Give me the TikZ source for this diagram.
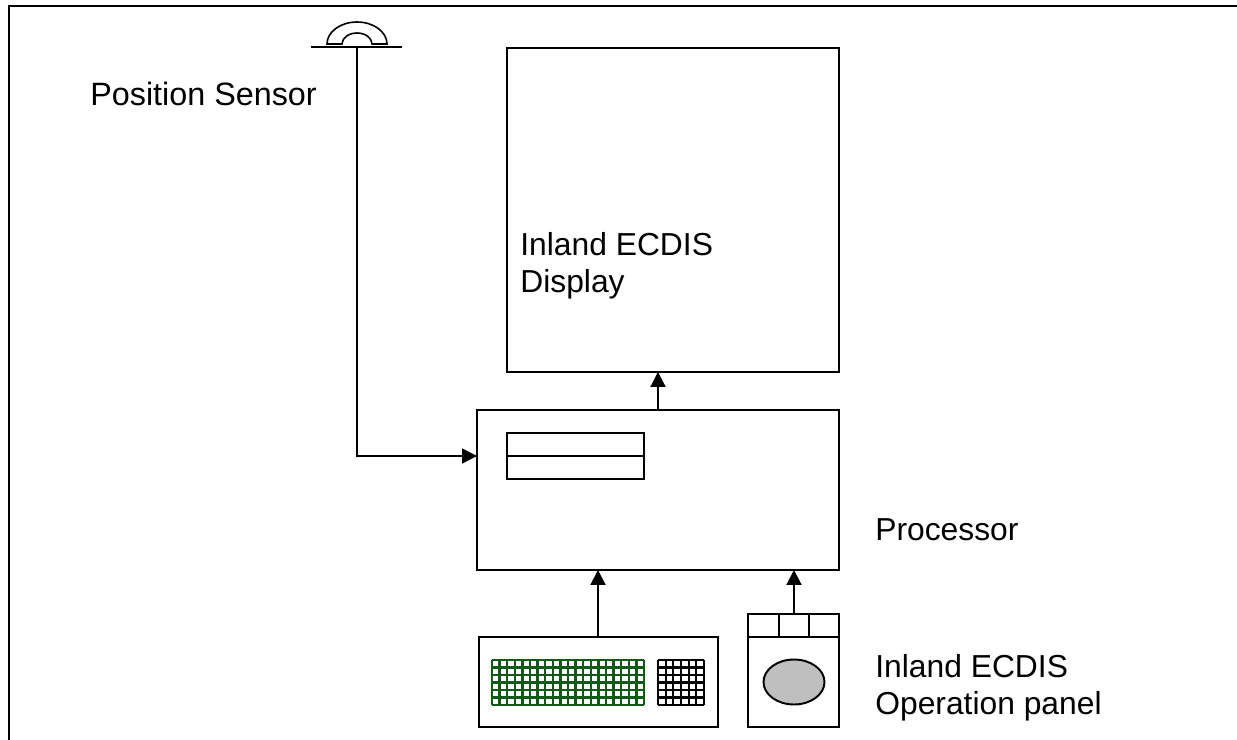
\documentclass[tikz,border=0pt]{standalone}
\usepackage{fontspec}
\setmainfont{Liberation Sans}
\usetikzlibrary{arrows.meta,shapes.geometric}
\definecolor{keygreen}{HTML}{0F5A14}
\tikzstyle{myBox} = [draw=black, line width=1.1pt, rectangle, inner sep=0pt, outer sep=0pt, anchor=north west]
\tikzstyle{myLabel} = [align=left, anchor=north west, inner sep=0pt,
    font=\fontsize{18.1}{21}\selectfont]
\tikzstyle{myConn} = [line width=1.1pt, -{Triangle[length=8.5pt,width=8.5pt]}]
\tikzstyle{myDot} = [inner sep=0pt, outer sep=0pt, minimum size=0pt]
\newcommand{\keygrid}[6]{
  \foreach \i in {0,...,#5} {
    \draw[#6] ({#1+\i*(#3-#1)/#5},#2) -- ({#1+\i*(#3-#1)/#5},#4);
  }
  \foreach \j in {0,...,6} {
    \draw[#6] (#1,{#2+\j*(#4-#2)/6}) -- (#3,{#2+\j*(#4-#2)/6});
  }
}

\begin{document}
\begin{tikzpicture}[x=0.02cm, y=-0.02cm]
\useasboundingbox (0,0) rectangle (1237,740);

% outer frame
\draw[line width=1.5pt] (9,740) -- (9,6) -- (1237,6);

\node[myBox, minimum width=6.64cm, minimum height=6.48cm] (display) at (507,48) {};
\node[myBox, minimum width=7.24cm, minimum height=3.2cm] (processor) at (477,410) {};
\node[myBox, minimum width=2.74cm, minimum height=0.92cm] (slot) at (507,433) {};
\draw[line width=1.1pt] (slot.west) -- (slot.east);

% keyboard
\node[myBox, minimum width=4.78cm, minimum height=1.8cm] (keyboard) at (479,637) {};
\keygrid{492}{660}{644}{705}{20}{line width=1.3pt, draw=keygreen}
\keygrid{658}{660}{704}{705}{6}{line width=1.3pt, draw=black}

% trackball panel
\node[myBox, minimum width=1.82cm, minimum height=1.8cm] (panel) at (748,637) {};
\node[myBox, minimum width=0.62cm, minimum height=0.46cm] (btn1) at (748,614) {};
\node[myBox, minimum width=0.6cm, minimum height=0.46cm] (btn2) at (779,614) {};
\node[myBox, minimum width=0.6cm, minimum height=0.46cm] (btn3) at (809,614) {};
\node[draw=black, line width=1.1pt, inner sep=0pt, outer sep=0pt, ellipse, fill=black!25, minimum width=1.22cm, minimum height=0.9cm] (ball) at (794,682) {};

% antenna
\node[myDot] (barL) at (311,47) {};
\node[myDot] (barR) at (402,47) {};
\node[myDot] (sensor) at (357,47) {};
\coordinate (bend) at (357,456);
\draw[line width=1.1pt] (barL) -- (barR);
\draw[line width=0.9pt] (327,44) arc[start angle=180, end angle=360, x radius=30, y radius=22]
  -- (372,44) arc[start angle=0, end angle=-180, x radius=15, y radius=11] -- cycle;

% connectors
\draw[myConn] (sensor) -- (bend) -- (processor.west |- bend);
\draw[myConn] (processor.north -| 658,0) -- (display.south -| 658,0);
\draw[myConn] (keyboard.north -| 598,0) -- (processor.south -| 598,0);
\draw[myConn] (btn2.north -| ball) -- (processor.south -| ball);

\node[myLabel, font=\fontsize{18.4}{21}\selectfont] (sensorLabel) at (90,82) {Position Sensor};
\node[myLabel] (displayLabel) at (520,232) {Inland ECDIS\\Display};
\node[myLabel] (processorLabel) at (875,518) {Processor};
\node[myLabel] (panelLabel) at (875,654) {Inland ECDIS\\Operation panel};
\end{tikzpicture}
\end{document}
